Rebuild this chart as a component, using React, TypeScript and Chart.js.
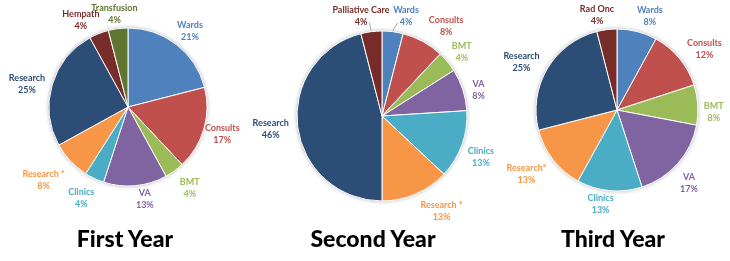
import React, { useEffect, useRef } from "react";
import { Chart, registerables } from "chart.js";

Chart.register(...registerables);

// ---- data ----
const year1Labels = ["Wards", "Consults", "BMT", "VA", "Clinics", "Research *", "Research", "Hempath", "Transfusion"];
const year1Values = [21, 17, 4, 13, 4, 8, 25, 4, 4];

const year2Labels = ["Wards", "Consults", "BMT", "VA", "Clinics", "Research *", "Research", "Palliative Care"];
const year2Values = [4, 8, 4, 8, 13, 13, 46, 4];

const year3Labels = ["Wards", "Consults", "BMT", "VA", "Clinics", "Research*", "Research", "Rad Onc"];
const year3Values = [8, 12, 8, 17, 13, 13, 25, 4];

const titles = ["First Year", "Second Year", "Third Year"];

// ---- styles ----
const sliceColors: Record<string, string> = {
  "Wards": "#4F81BD",
  "Consults": "#C0504D",
  "BMT": "#9BBB59",
  "VA": "#8064A2",
  "Clinics": "#4BACC6",
  "Research *": "#F79646",
  "Research*": "#F79646",
  "Research": "#2C4D75",
  "Hempath": "#772C2A",
  "Palliative Care": "#772C2A",
  "Rad Onc": "#772C2A",
  "Transfusion": "#5F7530",
};

const W = 730;
const H = 261;

type Nudge = [number, number, boolean?];

const layouts: { cx: number; cy: number; r: number; titleX: number; nudges: Record<number, Nudge> }[] = [
  {
    cx: 128, cy: 107, r: 79, titleX: 125,
    nudges: { 0: [2, -1], 1: [-4, -2], 2: [6, 1], 3: [8, -6], 4: [-5, 1], 5: [-7, 5], 6: [-2, 2], 7: [-9, 1], 8: [0, 1] },
  },
  {
    cx: 382, cy: 116, r: 85, titleX: 373,
    nudges: { 0: [11, 0, true], 1: [12, -2], 2: [2, 0], 3: [4, 4], 4: [1, 4], 5: [15, -1], 6: [-3, -2], 7: [-6, 0, true] },
  },
  {
    cx: 617, cy: 110, r: 81, titleX: 613,
    nudges: { 0: [8, 0], 1: [7, 0], 2: [0, 6], 3: [0, 6], 4: [-7, -6], 5: [-6, 1], 6: [-5, 0], 7: [-7, 1] },
  },
];

const LABEL_FONT = "bold 9px Lato";
const LINE_H = 12;
const GAP = 6;
const BASE_DY = 2;

const outLabels = {
  id: "outLabels",
  beforeDatasetsDraw(chart: any) {
    const meta = chart.getDatasetMeta(0);
    const arc = meta.data[0];
    if (!arc) return;
    const { x, y, outerRadius } = arc.getProps(["x", "y", "outerRadius"], true);
    const ctx = chart.ctx;
    ctx.save();
    ctx.shadowColor = "rgba(0,0,0,0.35)";
    ctx.shadowBlur = 4;
    ctx.fillStyle = "#ffffff";
    ctx.beginPath();
    ctx.arc(x, y, outerRadius, 0, Math.PI * 2);
    ctx.fill();
    ctx.restore();
  },
  afterDatasetsDraw(chart: any, _args: any, opts: any) {
    const ctx = chart.ctx;
    const meta = chart.getDatasetMeta(0);
    const ds = chart.data.datasets[0];
    const nudges = (opts && opts.nudges) || {};
    ctx.save();
    ctx.font = LABEL_FONT;
    ctx.textAlign = "center";
    ctx.textBaseline = "middle";
    meta.data.forEach((arc: any, i: number) => {
      const { x, y, startAngle, endAngle, outerRadius } = arc.getProps(
        ["x", "y", "startAngle", "endAngle", "outerRadius"],
        true
      );
      const mid = (startAngle + endAngle) / 2;
      const c = Math.cos(mid);
      const s = Math.sin(mid);
      const name = String(chart.data.labels[i]);
      const pct = ds.data[i] + "%";
      const wName = ctx.measureText(name).width;
      const wPct = ctx.measureText(pct).width;
      const w = Math.max(wName, wPct);
      const h = LINE_H * 2;
      const n: Nudge = nudges[i] || [0, 0, false];
      const lx = x + c * (outerRadius + GAP) + (c * w) / 2 + n[0];
      const ly = y + s * (outerRadius + GAP) + (s * h) / 2 + n[1] + BASE_DY;
      const color = ds.backgroundColor[i];
      ctx.fillStyle = color;
      ctx.fillText(name, lx, ly - LINE_H / 2);
      ctx.fillText(pct, lx, ly + LINE_H / 2);
      if (n[2]) {
        const ax = x + c * (outerRadius + 1);
        const ay = y + s * (outerRadius + 1);
        const ex = ax > lx ? lx + wPct / 2 + 2 : lx - wPct / 2 - 2;
        const ey = ly + LINE_H / 2 + 1;
        ctx.strokeStyle = "#A6A6A6";
        ctx.lineWidth = 1;
        ctx.beginPath();
        ctx.moveTo(ax, ay);
        ctx.lineTo(ex, ey);
        ctx.stroke();
      }
    });
    ctx.restore();
  },
};

function PieCanvas({ labels, values, layout }: { labels: string[]; values: number[]; layout: any }) {
  const ref = useRef<HTMLCanvasElement | null>(null);
  useEffect(() => {
    if (!ref.current) return;
    const { cx, cy, r } = layout;
    const side = r + 0.5;
    const chart = new Chart(ref.current, {
      type: "pie",
      data: {
        labels,
        datasets: [
          {
            data: values,
            backgroundColor: labels.map((l) => sliceColors[l]),
            borderColor: "#ffffff",
            borderWidth: 1,
          },
        ],
      },
      options: {
        responsive: false,
        animation: false,
        devicePixelRatio: 1,
        layout: {
          padding: {
            left: cx - side,
            right: W - cx - side,
            top: cy - side,
            bottom: H - cy - side,
          },
        },
        plugins: {
          legend: { display: false },
          tooltip: { enabled: false },
          outLabels: { nudges: layout.nudges },
        } as any,
      },
      plugins: [outLabels as any],
    });
    return () => chart.destroy();
  }, []);
  return (
    <canvas
      ref={ref}
      width={W}
      height={H}
      style={{ position: "absolute", left: 0, top: 0, width: W, height: H }}
    />
  );
}

export default function App() {
  const sets = [
    { labels: year1Labels, values: year1Values },
    { labels: year2Labels, values: year2Values },
    { labels: year3Labels, values: year3Values },
  ];
  return (
    <div style={{ position: "absolute", left: 0, top: 0, width: W, height: H, background: "#ffffff", overflow: "hidden" }}>
      {sets.map((s, i) => (
        <PieCanvas key={i} labels={s.labels} values={s.values} layout={layouts[i]} />
      ))}
      {titles.map((t, i) => (
        <div
          key={t}
          style={{
            position: "absolute",
            left: layouts[i].titleX - 100,
            width: 200,
            top: 227,
            textAlign: "center",
            fontFamily: "Lato",
            fontWeight: 900,
            fontSize: 23,
            lineHeight: "23px",
            color: "#000000",
            whiteSpace: "nowrap",
          }}
        >
          {t}
        </div>
      ))}
    </div>
  );
}
